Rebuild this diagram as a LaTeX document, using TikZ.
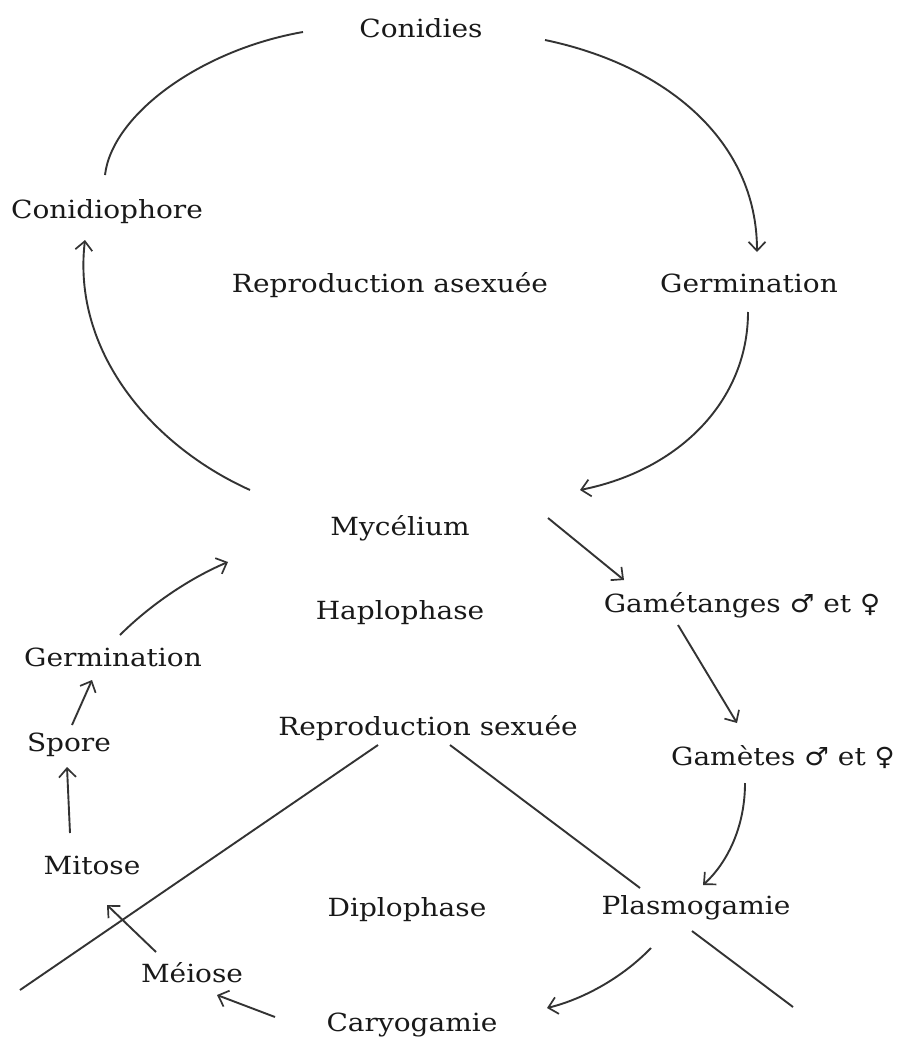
\documentclass[tikz,border=0pt]{standalone}
\usepackage{fontspec}
\setmainfont[FakeStretch=1.12]{DejaVu Serif}
\newfontfamily\symfont[FakeStretch=1.1]{DejaVu Sans}
\usetikzlibrary{arrows.meta}
\begin{document}
\begin{tikzpicture}[x=1pt,y=-1pt,
  lbl/.style={inner sep=0pt,font=\fontsize{25}{30}\selectfont,text=black!90},
  conn/.style={line width=1.9pt,draw=black!80},
  arr/.style={conn,-{Straight Barb[length=9pt,width=17pt,line width=1.7pt]}}]
\useasboundingbox[fill=white] (0,0) rectangle (908,1046);
% nodes
\node[lbl] (conidies) at (421,28) {Conidies};
\node[lbl] (conidiophore) at (107,212) {Conidiophore};
\node[lbl] (repasex) at (390,285) {Reproduction asexuée};
\node[lbl] (germR) at (749,283) {Germination};
\node[lbl] (mycelium) at (400,528) {Mycélium};
\node[lbl] (haplo) at (400,613) {Haplophase};
\node[lbl] (gametanges) at (742,605) {Gamétanges {\symfont ♂} et {\symfont ♀}};
\node[lbl] (germL) at (113,657) {Germination};
\node[lbl] (repsex) at (428,728) {Reproduction sexuée};
\node[lbl] (spore) at (69,745) {Spore};
\node[lbl] (gametes) at (783,757) {Gamètes {\symfont ♂} et {\symfont ♀}};
\node[lbl] (mitose) at (92,865) {Mitose};
\node[lbl] (diplo) at (407,910) {Diplophase};
\node[lbl] (plasmo) at (696,908) {Plasmogamie};
\node[lbl] (caryo) at (412,1025) {Caryogamie};
\node[lbl] (meiose) at (192,973) {Méiose};
% free ends
\coordinate (leftend) at (20,990);
\coordinate (rightend) at (793,1007);
\coordinate (meiosehit) at (107,905);
% asexual cycle
\draw[conn] ([shift={(-2,-37)}]conidiophore.center) .. controls (112,115) and (200,50) .. ([shift={(-118,4)}]conidies.center);
\draw[arr] ([shift={(124,12)}]conidies.center) .. controls (665,65) and (757,140) .. ([shift={(8,-31)}]germR.center);
\draw[arr] ([shift={(-1,29)}]germR.center) .. controls (748,400) and (680,470) .. ([shift={(180,-38)}]mycelium.center);
\draw[arr] ([shift={(-150,-38)}]mycelium.center) .. controls (150,445) and (72,350) .. ([shift={(-22,28)}]conidiophore.center);
% sexual cycle
\draw[arr] ([shift={(148,-10)}]mycelium.center) -- ([shift={(-118,-25)}]gametanges.center);
\draw[arr] ([shift={(-64,20)}]gametanges.center) -- ([shift={(-46,-34)}]gametes.center);
\draw[arr] ([shift={(-38,26)}]gametes.center) .. controls (745,830) and (725,865) .. ([shift={(7,-23)}]plasmo.center);
\draw[arr] ([shift={(-45,40)}]plasmo.center) .. controls (620,980) and (580,1000) .. ([shift={(135,-17)}]caryo.center);
\draw[arr] ([shift={(-137,-8)}]caryo.center) -- ([shift={(25,22)}]meiose.center);
\draw[arr] ([shift={(-36,-21)}]meiose.center) -- (meiosehit);
\draw[arr] ([shift={(-22,-32)}]mitose.center) -- ([shift={(-2,22)}]spore.center);
\draw[arr] ([shift={(3,-20)}]spore.center) -- ([shift={(-21,23)}]germL.center);
\draw[arr] ([shift={(7,-22)}]germL.center) .. controls (150,605) and (190,578) .. ([shift={(-172,34)}]mycelium.center);
% separating lines
\draw[conn] ([shift={(-50,17)}]repsex.center) -- (leftend);
\draw[conn] ([shift={(22,17)}]repsex.center) -- ([shift={(-56,-20)}]plasmo.center);
\draw[conn] ([shift={(-4,23)}]plasmo.center) -- (rightend);
\end{tikzpicture}
\end{document}
